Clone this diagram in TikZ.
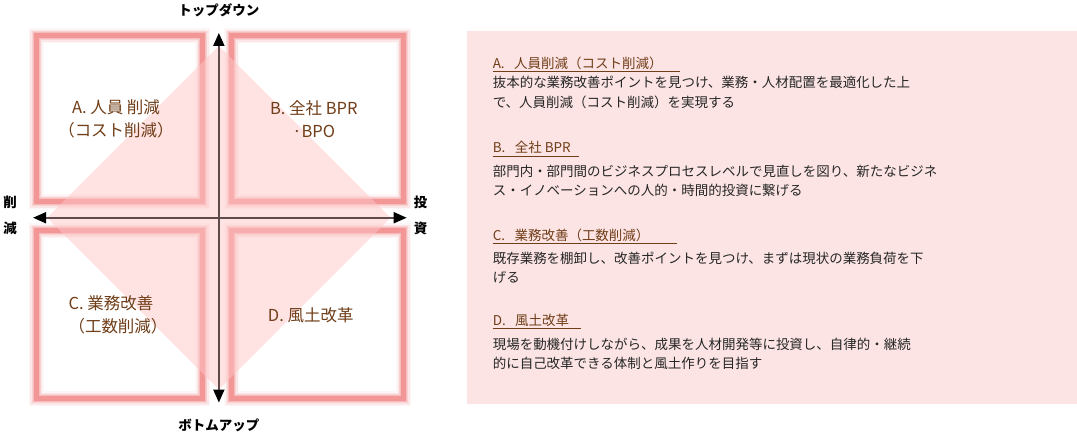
\documentclass[tikz,border=0pt]{standalone}
\usepackage{fontspec}
\setmainfont{Noto Sans CJK JP}
\usetikzlibrary{arrows.meta}
\definecolor{glowred}{RGB}{242,150,150}
\definecolor{panelpink}{RGB}{252,228,228}
\definecolor{labelbrown}{RGB}{112,62,24}
\definecolor{axisgray}{RGB}{95,75,75}

\begin{document}
\begin{tikzpicture}[
  x=1pt, y=-1pt, font=\fontsize{13.5}{19.5}\selectfont,
  quad/.style={draw=glowred, line width=5pt,
    preaction={fill=white},
    preaction={draw=glowred, line width=15pt, opacity=0.08},
    preaction={draw=glowred, line width=12pt, opacity=0.15},
    preaction={draw=glowred, line width=9pt, opacity=0.25},
    preaction={draw=glowred, line width=7pt, opacity=0.35}},
  quadtext/.style={text=labelbrown, font=\fontsize{16.5}{23}\selectfont, align=center},
  axis/.style={draw=axisgray, line width=1.8pt,
    {Triangle[length=13pt, width=11pt, color=black]}-{Triangle[length=13pt, width=11pt, color=black]}},
  axislabel/.style={font=\fontsize{13.5}{26}\selectfont\bfseries, align=center},
  head/.style={anchor=base west, text=labelbrown, inner sep=0pt},
  body/.style={anchor=base west, align=left, inner sep=0pt, text=black!85},
  uline/.style={draw=labelbrown, line width=1.2pt},
]
\fill[white] (0,0) rectangle (1077,434);

% quadrants
\draw[quad] (35,35) rectangle (202,201);
\draw[quad] (231,35) rectangle (403,201);
\draw[quad] (35,230) rectangle (202,398);
\draw[quad] (231,230) rectangle (403,398);
\fill[red!22, opacity=0.5] (218,45) -- (390,217) -- (218,389) -- (46,217) -- cycle;

\node[quadtext] (qa) at (115,118) {A. 人員 削減\\（コスト削減）};
\node[quadtext] (qb) at (313,118) {B. 全社 BPR\\·BPO};
\node[quadtext, align=left, anchor=west] (qc) at (64,314) {C. 業務改善\\（工数削減）};
\node[quadtext] (qd) at (310,315) {D. 風土改革};

% axes
\coordinate (ytop) at (218,32);
\coordinate (ybot) at (218,402);
\coordinate (xleft) at (32,217);
\coordinate (xright) at (406,217);
\draw[axis] (ybot) -- (ytop);
\draw[axis] (xleft) -- (xright);

\node[axislabel] (top) at (218,9) {トップダウン};
\node[axislabel] (bottom) at (218,425) {ボトムアップ};
\node[axislabel] (cut) at (9,215) {削\\減};
\node[axislabel] (invest) at (420,215) {投\\資};

% explanation panel
\fill[panelpink] (466,30) rectangle (1077,403);

\node[head] (ha) at (492,68) {A.\hspace{0.7em}人員削減（コスト削減）};
\draw[uline] (492,70.5) -- (680,70.5);
\node[body] (ba) at (492,106.5) {抜本的な業務改善ポイントを見つけ、業務・人材配置を最適化した上\\で、人員削減（コスト削減）を実現する};

\node[head] (hb) at (492,152) {B.\hspace{0.7em}全社 BPR};
\draw[uline] (492,155.5) -- (578,155.5);
\node[body] (bb) at (492,195) {部門内・部門間のビジネスプロセスレベルで見直しを図り、新たなビジネ\\ス・イノベーションへの人的・時間的投資に繋げる};

\node[head] (hc) at (492,240) {C.\hspace{0.7em}業務改善（工数削減）};
\draw[uline] (492,242.5) -- (677,242.5);
\node[body] (bc) at (492,282) {既存業務を棚卸し、改善ポイントを見つけ、まずは現状の業務負荷を下\\げる};

\node[head] (hd) at (492,325) {D.\hspace{0.7em}風土改革};
\draw[uline] (492,327.5) -- (580,327.5);
\node[body] (bd) at (492,368) {現場を動機付けしながら、成果を人材開発等に投資し、自律的・継続\\的に自己改革できる体制と風土作りを目指す};
\end{tikzpicture}
\end{document}
